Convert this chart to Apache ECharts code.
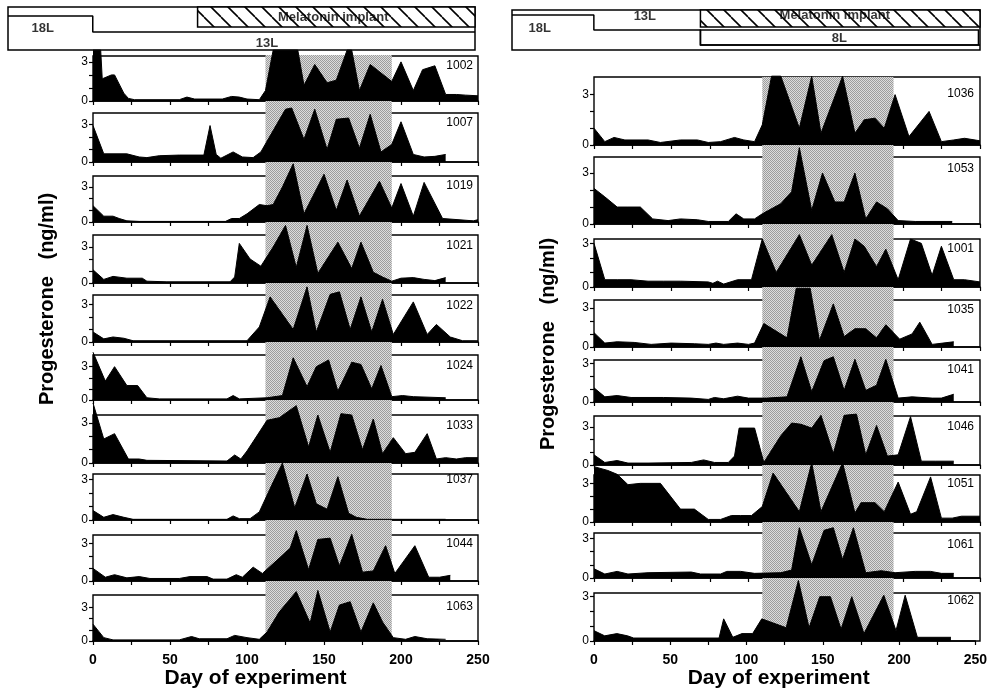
<!DOCTYPE html>
<html>
<head>
<meta charset="utf-8">
<script src="https://cdn.jsdelivr.net/npm/echarts@6.0.0/dist/echarts.min.js"></script>
<style>
  html, body { margin: 0; padding: 0; background: #fff; }
  #main { width: 990px; height: 692px; }
</style>
</head>
<body>
<div id="main"></div>
<script>
// ---- data: [day of experiment, progesterone ng/ml] ----
// left group (18L -> 13L, melatonin implant)
var p1002 = [[0,3.9],[5,3.9],[6,1.7],[12,2.0],[14,2.0],[20,0.6],[23,0.2],[27,0.1],[56,0.1],[61,0.3],[66,0.15],[84,0.15],[90,0.35],[95,0.3],[100,0.15],[108,0.1],[112,0.8],[117,3.9],[133,3.9],[137,1.2],[144,2.8],[152,1.4],[158,1.6],[165,3.9],[168,3.9],[173,0.8],[180,2.8],[194,1.5],[200,3.0],[208,0.8],[214,2.4],[222,2.7],[229,0.5],[236,0.5],[242,0.45],[250,0.4]];
var p1007 = [[0,2.9],[7,0.65],[22,0.65],[30,0.4],[35,0.35],[43,0.5],[56,0.55],[72,0.55],[76,2.9],[80,0.6],[83,0.3],[91,0.8],[97,0.4],[104,0.35],[109,0.8],[117,2.5],[125,4.2],[129,4.3],[137,1.8],[144,4.2],[152,1.0],[158,3.4],[166,3.5],[173,1.1],[180,3.8],[187,0.8],[194,1.4],[200,3.2],[208,0.6],[215,0.4],[222,0.45],[229,0.6]];
var p1019 = [[0,1.4],[7,0.5],[13,0.5],[17,0.3],[22,0.1],[30,0.05],[86,0.05],[90,0.3],[95,0.3],[100,0.7],[108,1.5],[113,1.4],[117,1.5],[123,3.0],[130,5.0],[137,0.7],[150,4.1],[158,1.0],[165,3.6],[173,0.5],[186,3.5],[194,1.2],[200,3.3],[208,0.5],[215,3.4],[227,0.3],[247,0.1],[250,0.2]];
var p1021 = [[0,1.1],[7,0.3],[13,0.55],[22,0.4],[32,0.4],[35,0.15],[48,0.1],[89,0.1],[92,0.5],[95,3.3],[102,2.0],[109,1.4],[117,3.0],[125,4.8],[132,1.3],[139,4.8],[146,0.8],[159,3.4],[168,1.2],[174,3.4],[182,0.9],[188,0.5],[194,0.15],[200,0.4],[208,0.45],[215,0.3],[222,0.2],[229,0.45]];
var p1022 = [[0,0.8],[7,0.25],[13,0.4],[20,0.3],[26,0.1],[100,0.1],[108,1.2],[115,3.6],[130,1.0],[139,4.4],[145,0.8],[154,3.8],[160,4.0],[167,1.0],[174,3.6],[181,0.8],[188,3.4],[195,0.6],[208,3.2],[217,0.6],[223,1.4],[232,0.4],[240,0.1],[250,0.1]];
var p1024 = [[0,4.3],[8,1.7],[14,3.0],[22,1.3],[29,1.3],[35,0.2],[43,0.1],[87,0.1],[91,0.4],[95,0.1],[113,0.2],[123,0.4],[130,3.8],[139,1.2],[145,3.0],[153,3.6],[159,0.8],[168,3.4],[174,3.2],[181,1.0],[187,3.1],[194,0.3],[201,0.4],[208,0.3],[229,0.2]];
var p1033 = [[0,4.5],[7,1.8],[14,2.2],[23,0.3],[30,0.3],[35,0.2],[87,0.15],[92,0.6],[96,0.3],[100,0.9],[113,3.2],[121,3.4],[132,4.3],[140,1.2],[146,3.6],[154,0.8],[161,3.7],[168,3.6],[175,1.0],[182,3.3],[188,0.7],[195,1.9],[203,0.7],[209,0.8],[217,2.2],[223,0.3],[229,0.4],[236,0.3],[242,0.4],[250,0.4]];
var p1037 = [[0,0.7],[7,0.2],[13,0.4],[20,0.2],[26,0.05],[87,0.05],[91,0.3],[95,0.1],[102,0.1],[108,0.6],[117,2.8],[123,4.2],[131,0.9],[139,3.4],[145,1.2],[152,0.8],[159,3.2],[166,0.5],[171,0.2],[178,0.05],[229,0.05]];
var p1044 = [[0,1.0],[8,0.3],[14,0.5],[22,0.25],[30,0.35],[37,0.2],[56,0.2],[63,0.35],[74,0.35],[78,0.15],[87,0.15],[93,0.5],[97,0.3],[104,1.1],[110,0.6],[119,1.6],[128,2.6],[132,4.0],[140,0.9],[146,3.3],[154,3.4],[160,1.2],[168,3.7],[175,0.7],[182,0.8],[190,2.8],[196,0.6],[209,2.8],[218,0.3],[225,0.3],[232,0.45]];
var p1063 = [[0,1.5],[7,0.3],[13,0.1],[56,0.1],[64,0.4],[69,0.2],[87,0.2],[92,0.5],[100,0.3],[108,0.15],[113,0.8],[121,2.6],[132,4.4],[141,1.6],[146,4.5],[154,0.8],[160,3.2],[167,3.5],[174,0.8],[182,3.4],[188,1.7],[195,0.3],[203,0.15],[209,0.4],[217,0.2],[229,0.15]];

// right group (18L -> 13L -> 8L, melatonin implant)
var p1036 = [[0,1.0],[7,0.2],[13,0.45],[20,0.3],[35,0.3],[43,0.15],[56,0.3],[67,0.3],[74,0.15],[82,0.2],[91,0.45],[97,0.3],[104,0.2],[109,1.2],[115,4.1],[121,4.1],[133,1.0],[141,4.1],[147,0.7],[161,4.1],[169,0.7],[175,1.5],[182,1.6],[188,1.0],[195,3.0],[204,0.5],[217,2.0],[225,0.2],[233,0.3],[240,0.4],[250,0.25]];
var p1053 = [[0,2.1],[7,1.6],[15,1.0],[22,1.0],[30,1.0],[38,0.3],[48,0.2],[56,0.3],[67,0.25],[74,0.15],[87,0.15],[92,0.6],[97,0.3],[104,0.3],[109,0.6],[121,1.2],[128,1.9],[133,4.5],[141,0.8],[148,3.0],[156,1.3],[162,1.3],[169,3.0],[176,0.3],[183,1.3],[190,0.9],[197,0.2],[208,0.15],[232,0.15]];
var p1001 = [[0,3.0],[7,0.5],[15,0.5],[24,0.5],[35,0.4],[45,0.4],[56,0.4],[74,0.35],[77,0.25],[80,0.4],[84,0.2],[93,0.5],[102,0.5],[109,3.3],[118,1.0],[133,3.6],[141,1.5],[154,3.6],[162,1.0],[169,3.3],[175,2.8],[183,1.4],[189,2.6],[197,0.5],[205,3.3],[212,3.0],[219,0.8],[225,2.8],[233,0.5],[240,0.5],[250,0.35]];
var p1035 = [[0,1.1],[7,0.3],[15,0.4],[26,0.35],[37,0.2],[50,0.3],[65,0.25],[74,0.2],[79,0.3],[84,0.2],[93,0.3],[100,0.2],[104,0.3],[110,1.8],[125,0.7],[131,4.5],[140,4.5],[146,0.5],[155,3.3],[162,0.8],[169,1.4],[176,1.4],[183,0.7],[189,1.7],[198,0.6],[206,1.0],[211,1.9],[219,0.2],[226,0.3],[233,0.4]];
var p1041 = [[0,1.1],[7,0.4],[15,0.5],[24,0.35],[45,0.35],[63,0.3],[74,0.2],[78,0.35],[84,0.25],[93,0.45],[100,0.3],[112,0.3],[125,0.4],[134,3.5],[141,0.8],[149,3.2],[155,3.5],[162,0.9],[169,3.3],[176,0.9],[183,1.3],[189,3.3],[197,0.3],[206,0.4],[219,0.3],[225,0.3],[233,0.6]];
var p1046 = [[0,0.8],[7,0.2],[15,0.35],[22,0.15],[35,0.15],[63,0.2],[71,0.4],[78,0.2],[87,0.2],[91,0.7],[94,2.9],[104,2.9],[110,0.2],[121,2.3],[128,3.3],[134,3.2],[141,2.9],[147,3.9],[155,0.9],[162,3.9],[170,4.0],[176,0.8],[183,3.1],[190,0.7],[197,0.8],[205,3.8],[212,0.3],[221,0.3],[233,0.3]];
var p1051 = [[0,4.3],[9,4.0],[15,3.7],[22,2.9],[30,3.0],[43,3.0],[56,1.0],[65,1.0],[74,0.2],[82,0.2],[89,0.5],[95,0.5],[102,0.5],[109,1.2],[116,3.8],[133,0.8],[141,4.6],[147,0.8],[161,4.6],[169,0.7],[173,1.5],[182,1.5],[188,0.8],[197,3.1],[205,0.6],[209,0.8],[218,3.5],[225,0.3],[232,0.3],[238,0.45],[250,0.45]];
var p1061 = [[0,0.7],[7,0.3],[15,0.5],[22,0.3],[35,0.4],[63,0.45],[69,0.3],[82,0.3],[86,0.5],[95,0.5],[104,0.35],[121,0.4],[128,0.6],[133,3.8],[141,1.0],[149,3.6],[155,3.8],[161,1.4],[168,3.8],[176,0.4],[186,0.55],[195,0.4],[208,0.5],[218,0.5],[225,0.35],[233,0.35]];
var p1062 = [[0,0.7],[7,0.35],[15,0.5],[22,0.35],[26,0.2],[82,0.2],[85,1.5],[91,0.25],[97,0.5],[104,0.5],[110,1.5],[126,0.9],[134,4.1],[141,0.9],[148,3.0],[155,3.0],[162,0.8],[169,3.0],[177,0.5],[190,3.1],[198,0.7],[204,3.1],[212,0.25],[234,0.25]];

var leftIds = ['1002','1007','1019','1021','1022','1024','1033','1037','1044','1063'];
var leftValues = [p1002, p1007, p1019, p1021, p1022, p1024, p1033, p1037, p1044, p1063];
var rightIds = ['1036','1053','1001','1035','1041','1046','1051','1061','1062'];
var rightValues = [p1036, p1053, p1001, p1035, p1041, p1046, p1051, p1061, p1062];

// melatonin period shading (days)
var leftShade = [112, 194];
var rightShade = [109, 194];

// photoperiod schematic: [day, hours of light]
var leftLight = [[-55,18],[0,18],[0,13],[248,13]];
var rightLight = [[-53,18],[0,18],[0,13],[69,13],[69,8],[250,8]];
var leftImplant = [68, 248];
var rightImplant = [69, 250];
var rightShort = [69, 249];
var xTicks = [0, 50, 100, 150, 200, 250];
var yTicks = [0, 1, 2, 3];
var yLabels = [0, 3];

// ---- layout ----
var FONT = '"Liberation Sans", Arial, Helvetica, sans-serif';
var EXT = 6; // value range of the (taller) drawing grid, so peaks can rise above the box
var leftTop = [56,113,176,235,295,355,415,474,535,595];
var leftBase = [101,162,222,283,342,400,463,520,581,641];
var leftMax = [3.45,3.9,3.95,4.0,3.75,4.05,3.6,3.4,3.65,4.1];
var leftLabelY = [67,124,187,247,307,367,427,481,545,608];
var rightTop = [77,157,239,300,360,416,475,533,593];
var rightBase = [145,224,287,347,402,465,522,578,641];
var rightMax = [4.05,3.95,3.3,3.6,3.25,3.85,3.65,3.4,3.25];
var rightLabelY = [95,170,250,311,371,428,485,546,602];

function makeStipple() {
  var c = document.createElement('canvas');
  c.width = 2; c.height = 2;
  var ctx = c.getContext('2d');
  ctx.fillStyle = '#dcdcdc';
  ctx.fillRect(0, 0, 2, 2);
  ctx.fillStyle = '#9c9c9c';
  ctx.fillRect(0, 0, 1, 1);
  ctx.fillRect(1, 1, 1, 1);
  return c;
}
function makeHatch() {
  var s = 17;
  var c = document.createElement('canvas');
  c.width = s; c.height = s;
  var ctx = c.getContext('2d');
  ctx.fillStyle = '#fff';
  ctx.fillRect(0, 0, s, s);
  ctx.strokeStyle = '#000';
  ctx.lineWidth = 1.6;
  for (var k = -1; k <= 1; k++) {
    ctx.beginPath();
    ctx.moveTo(k * s, 0);
    ctx.lineTo(k * s + s, s);
    ctx.stroke();
  }
  return c;
}
var stipple = { image: makeStipple(), repeat: 'repeat' };
var hatch = { image: makeHatch(), repeat: 'repeat' };

var grids = [], xAxes = [], yAxes = [], series = [], titles = [];

function addGrid(g, x, y) {
  grids.push(g);
  var gi = grids.length - 1;
  x.gridIndex = gi; y.gridIndex = gi;
  xAxes.push(x); yAxes.push(y);
  return gi;
}

function hidden(min, max) {
  return { type: 'value', min: min, max: max, show: false, splitLine: { show: false } };
}

function addHeader(left, right, top, height, xmin, xmax, ymin, ymax, light, implant, implantLow, extra, texts) {
  var gi = addGrid(
    { left: left, right: right, top: top, height: height, show: true, borderColor: '#000', borderWidth: 1.5 },
    hidden(xmin, xmax), hidden(ymin, ymax)
  );
  var areas = [[{ xAxis: implant[0], yAxis: implantLow }, { xAxis: implant[1], yAxis: ymax }]];
  series.push({
    type: 'line', xAxisIndex: gi, yAxisIndex: gi, data: light, symbol: 'none', silent: true,
    lineStyle: { color: '#000', width: 1.5 },
    markArea: { silent: true, itemStyle: { color: hatch, borderColor: '#000', borderWidth: 1.5 }, data: areas }
  });
  if (extra) {
    series.push({
      type: 'line', xAxisIndex: gi, yAxisIndex: gi, data: [], silent: true,
      markArea: { silent: true, itemStyle: { color: '#fff', borderColor: '#000', borderWidth: 1.5 }, data: [extra] }
    });
  }
  series.push({
    type: 'scatter', xAxisIndex: gi, yAxisIndex: gi, symbolSize: 0, silent: true, z: 5,
    data: texts,
    label: { show: true, position: 'inside', formatter: '{b}', color: '#000', fontWeight: 'bold', fontSize: 13, fontFamily: FONT }
  });
}

function addShade(left, right, top, shade) {
  var gi = addGrid(
    { left: left, right: right, top: top, bottom: 51, show: false },
    hidden(0, 250), hidden(0, 1)
  );
  series.push({
    type: 'line', xAxisIndex: gi, yAxisIndex: gi, data: [], silent: true, z: -5,
    markArea: { silent: true, itemStyle: { color: stipple }, data: [[{ xAxis: shade[0], yAxis: 0 }, { xAxis: shade[1], yAxis: 1 }]] }
  });
}

function addPanel(left, right, top, base, ymax, values, id, labelY, idRight, last, namePad) {
  // the framed box of the panel
  addGrid(
    { left: left, right: right, top: top, height: base - top, show: true, borderColor: '#000', borderWidth: 1.4, backgroundColor: 'transparent' },
    hidden(0, 250), hidden(0, 1)
  );
  // drawing grid: same bottom and scale, taller, so high values overflow the frame
  var h = (base - top) * EXT / ymax;
  var gi = addGrid(
    { left: left, right: right, top: base - h, height: h, show: false },
    {
      type: 'value', min: 0, max: 250, interval: 25,
      axisLine: { show: true, onZero: false, lineStyle: { color: '#000', width: 1.6 } },
      axisTick: { show: true, length: 4, lineStyle: { color: '#000', width: 1.2 } },
      splitLine: { show: false },
      axisLabel: last ? {
        show: true, margin: 12, color: '#000', fontWeight: 'bold', fontSize: 14, fontFamily: FONT,
        formatter: function (v) { return xTicks.indexOf(v) >= 0 ? String(v) : ''; }
      } : { show: false },
      name: last ? 'Day of experiment' : '',
      nameLocation: 'middle', nameGap: 27,
      nameTextStyle: { color: '#000', fontWeight: 'bold', fontSize: 21, fontFamily: FONT, padding: namePad }
    },
    {
      type: 'value', min: 0, max: EXT, interval: 1,
      axisLine: { show: false },
      axisTick: { show: true, length: 4, customValues: yTicks, lineStyle: { color: '#000', width: 1.2 } },
      splitLine: { show: false },
      axisLabel: {
        margin: 5, color: '#000', fontSize: 12, fontFamily: FONT, customValues: yLabels,
        formatter: function (v) { return yLabels.indexOf(v) >= 0 ? String(v) : ''; }
      }
    }
  );
  series.push({
    type: 'line', xAxisIndex: gi, yAxisIndex: gi, data: values, symbol: 'none', silent: true, z: 3,
    lineStyle: { color: '#000', width: 1 },
    areaStyle: { color: '#000', opacity: 1 }
  });
  titles.push({
    text: id, right: idRight, top: labelY - 7, padding: 0,
    textStyle: { color: '#000', fontSize: 12, fontWeight: 'normal', fontFamily: FONT }
  });
}

// shading behind the panels
addShade(93, 512, 55, leftShade);
addShade(594, 10, 77, rightShade);

// photoperiod headers
addHeader(8, 515, 7, 43, -55, 248, 7.4, 20.8, leftLight, leftImplant, 14.56, null, [
  { name: '18L', value: [-32.5, 14.25] },
  { name: '13L', value: [113, 9.5] },
  { name: 'Melatonin implant', value: [156, 17.7] }
]);
addHeader(512, 10, 10, 40, -53, 250, 6.33, 19.67, rightLight, rightImplant, 14,
  [{ xAxis: rightShort[0], yAxis: 8 }, { xAxis: rightShort[1], yAxis: 13 }], [
  { name: '18L', value: [-35, 13.67] },
  { name: '13L', value: [33, 17.67] },
  { name: 'Melatonin implant', value: [156, 18] },
  { name: '8L', value: [159, 10.3] }
]);

for (var i = 0; i < leftIds.length; i++) {
  addPanel(93, 512, leftTop[i], leftBase[i], leftMax[i], leftValues[i], leftIds[i], leftLabelY[i], 517, i === leftIds.length - 1, [0, 60, 0, 0]);
}
for (var j = 0; j < rightIds.length; j++) {
  addPanel(594, 10, rightTop[j], rightBase[j], rightMax[j], rightValues[j], rightIds[j], rightLabelY[j], 16, j === rightIds.length - 1, [0, 12, 0, 0]);
}

var myChart = echarts.init(document.getElementById('main'), null, { renderer: 'canvas' });
myChart.setOption({
  animation: false,
  backgroundColor: '#fff',
  title: titles,
  grid: grids,
  xAxis: xAxes,
  yAxis: yAxes,
  series: series,
  graphic: [
    {
      type: 'text', x: 47, y: 299, rotation: Math.PI / 2,
      style: { text: 'Progesterone   (ng/ml)', fill: '#000', font: 'bold 20px ' + FONT, align: 'center', verticalAlign: 'middle', textAlign: 'center', textVerticalAlign: 'middle' }
    },
    {
      type: 'text', x: 548, y: 344, rotation: Math.PI / 2,
      style: { text: 'Progesterone   (ng/ml)', fill: '#000', font: 'bold 20px ' + FONT, align: 'center', verticalAlign: 'middle', textAlign: 'center', textVerticalAlign: 'middle' }
    }
  ]
});
</script>
</body>
</html>
